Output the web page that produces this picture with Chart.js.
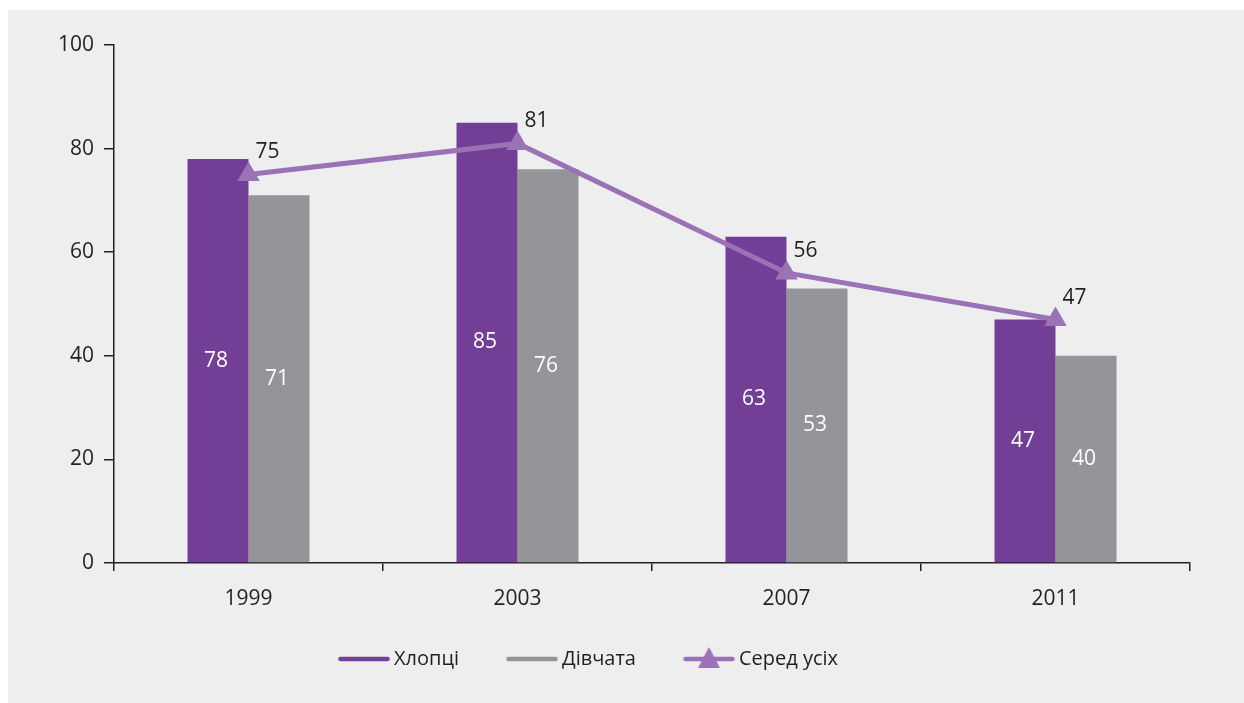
<!DOCTYPE html>
<html>
<head>
<meta charset="utf-8">
<script src="https://cdn.jsdelivr.net/npm/chart.js@4.4.1/dist/chart.umd.min.js"></script>
<style>
  html, body { margin: 0; padding: 0; background: #ffffff; }
  #box { position: absolute; left: 8px; top: 10px; width: 1236px; height: 693px; background: #eeeeee; }
</style>
</head>
<body>
<div id="box"><canvas id="chart"></canvas></div>
<script>
var years = ["1999", "2003", "2007", "2011"];
var boys = [78, 85, 63, 47];
var girls = [71, 76, 53, 40];
var all = [75, 81, 56, 47];
var seriesNames = ["Хлопці", "Дівчата", "Серед усіх"];

var purple = "#723e96";
var grey = "#939598";
var lilac = "#9a72b6";
var ink = "#231f20";
var fontFamily = "'Open Sans', sans-serif";

// legend pictures: a rounded line just left of the text, the last one with a triangle
function legendMark(color, withTriangle) {
  var c = document.createElement("canvas");
  c.width = 72;
  c.height = 26;
  var g = c.getContext("2d");
  g.strokeStyle = color;
  g.lineWidth = 4.5;
  g.lineCap = "round";
  g.beginPath();
  g.moveTo(19, 13);
  g.lineTo(66, 13);
  g.stroke();
  if (withTriangle) {
    g.fillStyle = color;
    g.beginPath();
    g.moveTo(42.5, 1);
    g.lineTo(53.5, 22);
    g.lineTo(31.5, 22);
    g.closePath();
    g.fill();
  }
  return c;
}

var marks = [legendMark(purple, false), legendMark(grey, false), legendMark(lilac, true)];

var valueLabels = {
  id: "valueLabels",
  afterDatasetsDraw: function(chart) {
    var ctx = chart.ctx;
    chart.data.datasets.forEach(function(ds, i) {
      var meta = chart.getDatasetMeta(i);
      meta.data.forEach(function(el, j) {
        ctx.save();
        ctx.font = "21px " + fontFamily;
        ctx.textBaseline = "middle";
        if (meta.type === "bar") {
          ctx.fillStyle = "#ffffff";
          ctx.textAlign = "center";
          ctx.fillText(ds.data[j], el.x - 2, (el.y + el.base) / 2);
        } else {
          ctx.fillStyle = ink;
          ctx.textAlign = "left";
          ctx.fillText(ds.data[j], el.x + 7, el.y - 22);
        }
        ctx.restore();
      });
    });
  }
};

new Chart(document.getElementById("chart"), {
  data: {
    labels: years,
    datasets: [
      {
        type: "line",
        label: seriesNames[2],
        data: all,
        order: 0,
        borderColor: lilac,
        borderWidth: 5,
        backgroundColor: lilac,
        pointStyle: "triangle",
        pointRadius: 13,
        pointHoverRadius: 13,
        pointBorderWidth: 0,
        tension: 0
      },
      {
        type: "bar",
        label: seriesNames[0],
        data: boys,
        order: 1,
        backgroundColor: purple,
        categoryPercentage: 0.4535,
        barPercentage: 1
      },
      {
        type: "bar",
        label: seriesNames[1],
        data: girls,
        order: 2,
        backgroundColor: grey,
        categoryPercentage: 0.4535,
        barPercentage: 1
      }
    ]
  },
  options: {
    responsive: true,
    maintainAspectRatio: false,
    animation: false,
    layout: { padding: { top: 35, left: -29, right: 54, bottom: 24 } },
    plugins: {
      tooltip: { enabled: false },
      legend: {
        position: "bottom",
        labels: {
          usePointStyle: true,
          pointStyleWidth: 53,
          padding: 40,
          color: ink,
          font: { family: fontFamily, size: 20 },
          generateLabels: function(chart) {
            return [0, 1, 2].map(function(k) {
              return {
                text: seriesNames[k],
                pointStyle: marks[k],
                fillStyle: "transparent",
                strokeStyle: "transparent",
                lineWidth: 0,
                fontColor: ink,
                datasetIndex: k === 2 ? 0 : k + 1
              };
            });
          }
        }
      }
    },
    scales: {
      x: {
        offset: true,
        grid: { offset: true, drawOnChartArea: false, tickLength: 8, color: ink, lineWidth: 1.5 },
        border: { color: ink, width: 1.5 },
        ticks: { color: ink, padding: 15, font: { family: fontFamily, size: 21 } },
        afterFit: function(scale) { scale.height = 46; }
      },
      y: {
        min: 0,
        max: 100,
        ticks: { stepSize: 20, color: ink, padding: 10, font: { family: fontFamily, size: 21 } },
        grid: { drawOnChartArea: false, tickLength: 10, color: ink, lineWidth: 1.5 },
        border: { color: ink, width: 1.5 },
        afterFit: function(scale) { scale.width = 135; }
      }
    }
  },
  plugins: [valueLabels]
});
</script>
</body>
</html>
